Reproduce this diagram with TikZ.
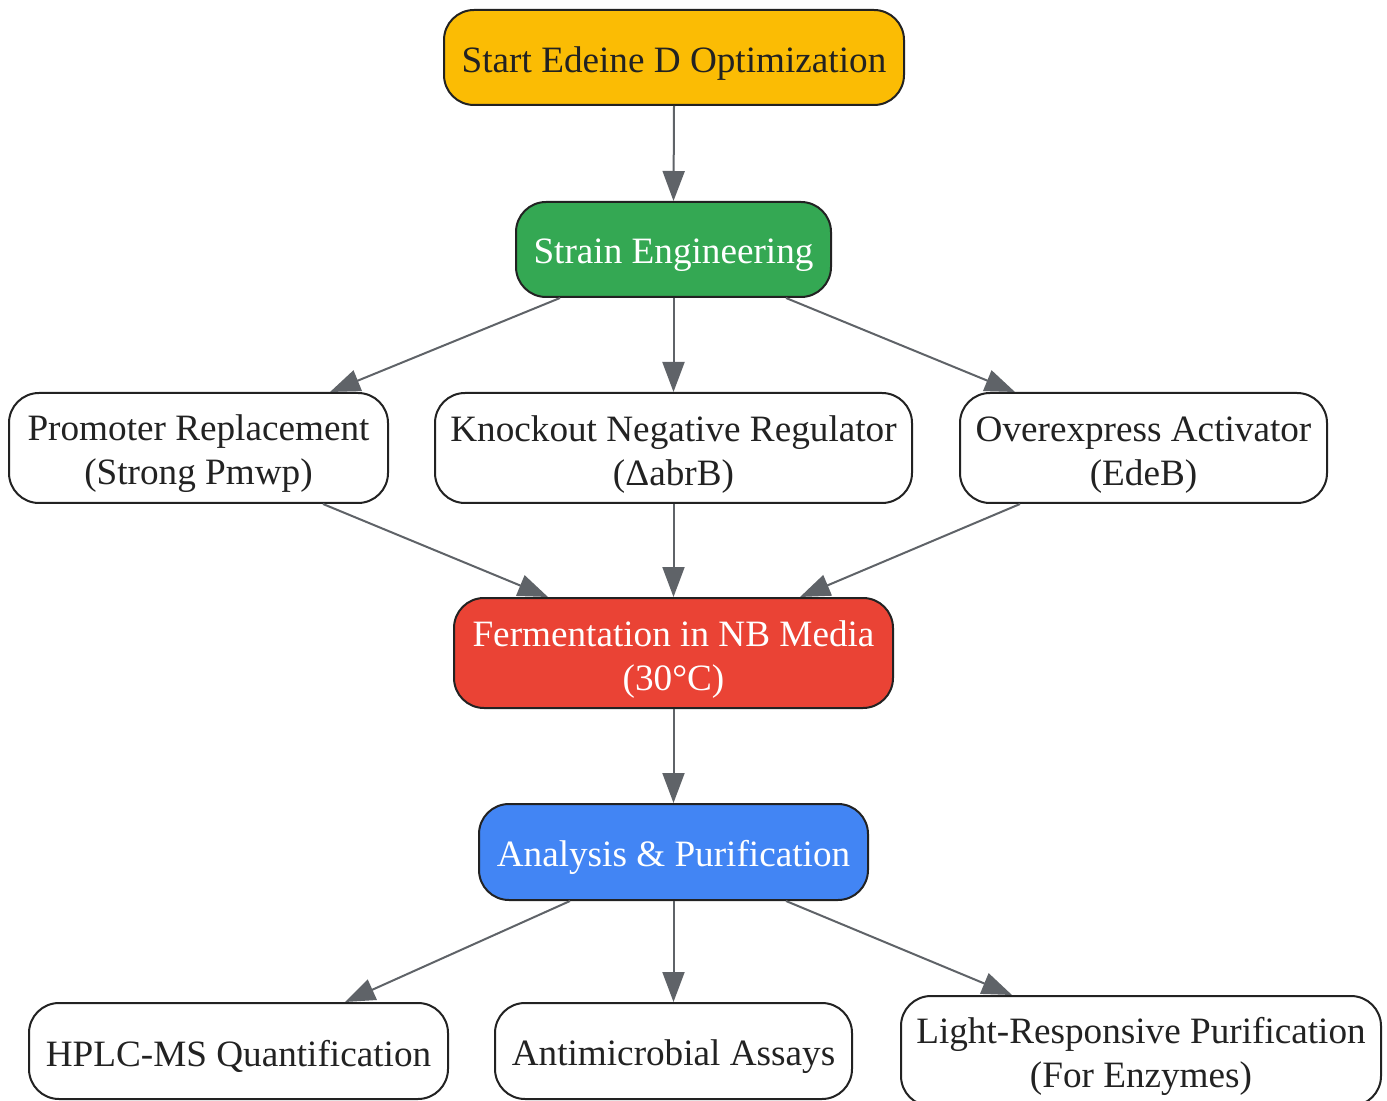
\documentclass[tikz,border=0pt]{standalone}
\usepackage{fontspec}
\setmainfont{Liberation Serif}
\usetikzlibrary{arrows.meta,calc}
\definecolor{ylw}{HTML}{FBBC04}
\definecolor{grn}{HTML}{34A853}
\definecolor{rd}{HTML}{EA4335}
\definecolor{blu}{HTML}{4285F4}
\definecolor{textc}{HTML}{222222}
\definecolor{arrc}{HTML}{5F6368}
\newcommand{\tstrut}{\rule{0pt}{19pt}}
\begin{document}
\begin{tikzpicture}[x=0.5pt,y=-0.5pt,
  box/.style={draw=textc, line width=1pt, rounded corners=15pt, align=center, inner sep=0pt,
    font=\fontsize{18.6}{22}\selectfont, text=textc, fill=white,
    execute at begin node={\rule{0pt}{18.5pt}}},
  arr/.style={draw=arrc, line width=1pt, -{Triangle[length=15pt,width=11pt]}}]
\useasboundingbox (0,0) rectangle (1387,1101);
\node[box, fill=ylw, minimum width=230pt, minimum height=47.5pt] (start) at (674,57.5) {Start Edeine D Optimization};
\node[box, fill=grn, text=white, minimum width=157.5pt, minimum height=47.5pt] (strain) at (673.5,249.5) {Strain Engineering};
\node[box, minimum width=189.5pt, minimum height=55pt] (prom) at (198.5,448) {\tstrut Promoter Replacement\\(Strong Pmwp)};
\node[box, minimum width=238.5pt, minimum height=55pt] (ko) at (673.5,448) {\tstrut Knockout Negative Regulator\\(ΔabrB)};
\node[box, minimum width=183.5pt, minimum height=55pt] (over) at (1143.5,448) {\tstrut Overexpress Activator\\(EdeB)};
\node[box, fill=rd, text=white, minimum width=219.5pt, minimum height=55pt] (ferm) at (673.5,653) {\tstrut Fermentation in NB Media\\(30°C)};
\node[box, fill=blu, text=white, minimum width=194.5pt, minimum height=48pt] (ana) at (673.5,852) {Analysis \& Purification};
\node[box, minimum width=209.5pt, minimum height=48pt] (hplc) at (238.5,1051) {HPLC-MS Quantification};
\node[box, minimum width=178.5pt, minimum height=48pt] (anti) at (673.5,1051) {Antimicrobial Assays};
\node[box, minimum width=240pt, minimum height=55pt] (light) at (1141,1051) {\tstrut Light-Responsive Purification\\(For Enzymes)};

\draw[arr] (start.south) -- (strain.north);
\draw[arr] ($(strain.south)+(-113.5,0)$) -- ($(prom.north)+(131.5,0)$);
\draw[arr] (strain.south) -- (ko.north);
\draw[arr] ($(strain.south)+(112.5,0)$) -- ($(over.north)+(-128.5,0)$);
\draw[arr] ($(prom.south)+(124.5,0)$) -- ($(ferm.north)+(-125.5,0)$);
\draw[arr] (ko.south) -- (ferm.north);
\draw[arr] ($(over.south)+(-123.5,0)$) -- ($(ferm.north)+(126.5,0)$);
\draw[arr] (ferm.south) -- (ana.north);
\draw[arr] ($(ana.south)+(-103.5,0)$) -- ($(hplc.north)+(106.5,0)$);
\draw[arr] (ana.south) -- (anti.north);
\draw[arr] ($(ana.south)+(112.5,0)$) -- ($(light.north)+(-129,0)$);
\end{tikzpicture}
\end{document}
